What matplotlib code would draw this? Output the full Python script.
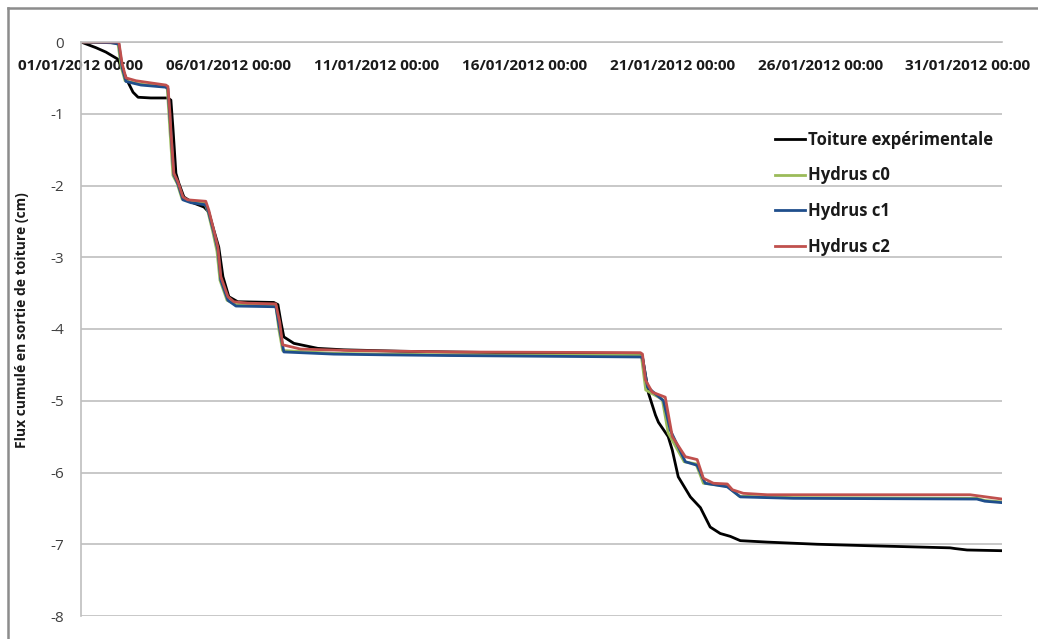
import numpy as np
import matplotlib
matplotlib.use("Agg")
import matplotlib.pyplot as plt
import matplotlib.dates as mdates
from matplotlib.lines import Line2D
import datetime as dt

plt.rcParams['font.family'] = ['Open Sans', 'DejaVu Sans']

start = dt.datetime(2012, 1, 1)

# Days since 01/01/2012 00:00 and cumulative flux (cm)
exp_days = [0, 0.51, 0.84, 1.25, 1.42, 1.59, 1.76, 1.93, 2.36, 2.94, 3.04, 3.11, 3.21, 3.31,
            3.48, 3.78, 4.16, 4.32, 4.49, 4.66, 4.80, 5.00, 5.30, 6.52, 6.66, 6.76, 6.86, 7.20,
            8.01, 8.89, 10.81, 14.19, 18.92, 18.99, 19.19, 19.43, 19.53, 19.86, 20.00, 20.20,
            20.61, 20.95, 21.28, 21.62, 21.96, 22.30, 23.21, 24.90, 26.59, 29.39, 29.56, 29.97, 31.15]
exp_vals = [0, -0.08, -0.14, -0.24, -0.40, -0.56, -0.70, -0.77, -0.78, -0.78, -0.81, -1.20, -1.83, -1.97,
            -2.16, -2.24, -2.30, -2.37, -2.62, -2.86, -3.27, -3.55, -3.62, -3.63, -3.66, -3.90, -4.11, -4.20,
            -4.27, -4.29, -4.31, -4.33, -4.34, -4.39, -4.89, -5.20, -5.30, -5.50, -5.69, -6.06,
            -6.34, -6.49, -6.76, -6.85, -6.89, -6.95, -6.97, -7.00, -7.02, -7.05, -7.06, -7.08, -7.09]

c0_days = [0, 1.01, 1.25, 1.36, 1.49, 2.03, 2.87, 2.92, 3.01, 3.11, 3.25, 3.42, 3.72, 4.19, 4.29, 4.46,
           4.60, 4.70, 4.94, 5.24, 6.59, 6.69, 6.82, 8.55, 10.24, 12.50, 18.92, 18.96, 19.10, 19.66,
           19.86, 20.40, 20.80, 21.05, 21.86, 22.26, 24.09, 30.30, 30.57, 31.15]
c0_vals = [0, -0.01, -0.02, -0.35, -0.54, -0.59, -0.62, -0.66, -1.25, -1.86, -1.97, -2.19, -2.22, -2.25,
           -2.36, -2.65, -2.92, -3.32, -3.60, -3.66, -3.67, -4.00, -4.30, -4.34, -4.35, -4.36, -4.37,
           -4.40, -4.85, -4.98, -5.45, -5.85, -5.88, -6.15, -6.19, -6.33, -6.35, -6.36, -6.39, -6.41]

c1_days = [0, 1.01, 1.28, 1.39, 1.52, 2.03, 2.87, 2.94, 3.04, 3.14, 3.28, 3.45, 3.72, 4.22, 4.32, 4.49,
           4.63, 4.73, 4.97, 5.24, 6.59, 6.72, 6.86, 8.55, 10.24, 12.50, 18.92, 18.99, 19.16, 19.70,
           19.93, 20.44, 20.84, 21.11, 21.86, 22.30, 24.09, 30.30, 30.57, 31.15]
c1_vals = [0, -0.01, -0.03, -0.35, -0.55, -0.60, -0.63, -0.65, -1.25, -1.85, -1.98, -2.20, -2.24, -2.27,
           -2.38, -2.65, -2.90, -3.32, -3.60, -3.68, -3.69, -4.00, -4.32, -4.35, -4.36, -4.37, -4.39,
           -4.40, -4.81, -5.00, -5.41, -5.85, -5.90, -6.15, -6.20, -6.34, -6.36, -6.37, -6.40, -6.42]

c2_days = [0, 1.28, 1.39, 1.52, 1.86, 2.36, 2.87, 2.94, 3.01, 3.04, 3.14, 3.28, 3.45, 3.61, 4.22, 4.32,
           4.49, 4.63, 4.73, 4.97, 5.17, 5.64, 6.59, 6.72, 6.82, 7.43, 9.12, 12.50, 18.92, 18.99, 19.09,
           19.32, 19.76, 20.00, 20.44, 20.84, 21.05, 21.39, 21.86, 22.03, 22.40, 23.21, 30.07, 31.15]
c2_vals = [0, 0, -0.30, -0.50, -0.54, -0.57, -0.60, -0.62, -1.00, -1.23, -1.83, -1.95, -2.16, -2.20, -2.22,
           -2.34, -2.62, -2.86, -3.27, -3.55, -3.62, -3.64, -3.65, -3.90, -4.22, -4.28, -4.30, -4.32,
           -4.33, -4.35, -4.71, -4.88, -4.95, -5.50, -5.78, -5.82, -6.08, -6.15, -6.16, -6.24, -6.29,
           -6.31, -6.31, -6.37]

series_labels = ["Toiture expérimentale", "Hydrus c0", "Hydrus c1", "Hydrus c2"]
series_colors = ["#000000", "#9BBB59", "#1F4E8C", "#C0504D"]
y_ticks = [0, -1, -2, -3, -4, -5, -6, -7, -8]
x_tick_days = [0, 5, 10, 15, 20, 25, 30]
x_end_day = 31.15


def to_dates(days):
    return [start + dt.timedelta(days=d) for d in days]


fig = plt.figure(figsize=(10.38, 6.39), dpi=100)
ax = fig.add_axes([81 / 1038, 1 - 616 / 639, (1002 - 81) / 1038, (616 - 42) / 639])

all_days = [exp_days, c0_days, c1_days, c2_days]
all_vals = [exp_vals, c0_vals, c1_vals, c2_vals]
for d, v, lab, col in zip(all_days, all_vals, series_labels, series_colors):
    ax.plot(to_dates(d), v, color=col, lw=2.0, label=lab, solid_joinstyle='round')

ax.set_xlim(start, start + dt.timedelta(days=x_end_day))
ax.set_ylim(-8, 0)
ax.set_yticks(y_ticks)
ax.set_yticklabels([str(t) for t in y_ticks])
ax.set_xticks(to_dates(x_tick_days))
ax.xaxis.set_major_formatter(mdates.DateFormatter('%d/%m/%Y %H:%M'))

for s in ['right', 'top']:
    ax.spines[s].set_visible(False)
ax.spines['bottom'].set_position(('data', 0))
ax.spines['bottom'].set_color('#bfbfbf')
ax.spines['bottom'].set_linewidth(1.2)
ax.spines['left'].set_color('#bfbfbf')
ax.spines['left'].set_linewidth(1.2)
ax.grid(axis='y', color='#bfbfbf', lw=1.2)
ax.set_axisbelow(True)

ax.tick_params(axis='x', length=0, pad=12, labelsize=11)
ax.tick_params(axis='y', length=0, pad=12, labelsize=11, labelcolor='#404040')
for lbl in ax.get_xticklabels():
    lbl.set_fontweight('bold')
    lbl.set_color('#1a1a1a')

ax.set_ylabel("Flux cumulé en sortie de toiture (cm)", fontsize=10, fontweight='bold', color='#1a1a1a')
ax.yaxis.set_label_coords(-0.057, 0.516)

leg = ax.legend(loc='upper left', bbox_to_anchor=(775 / 1038, 1 - 131 / 639),
                bbox_transform=fig.transFigure, frameon=False, handlelength=1.8,
                handletextpad=0.15, labelspacing=1.05, prop={'weight': 'bold', 'size': 12},
                borderaxespad=0, borderpad=0)
for t in leg.get_texts():
    t.set_color('#1a1a1a')

# Outer chart frame (top and left visible)
fig.add_artist(Line2D([8 / 1038, 8 / 1038], [0, 1 - 8 / 639], transform=fig.transFigure,
                      color='#8c8c8c', lw=1.8))
fig.add_artist(Line2D([8 / 1038, 1], [1 - 8 / 639, 1 - 8 / 639], transform=fig.transFigure,
                      color='#8c8c8c', lw=1.8))

fig.savefig("out.png", dpi=100)
